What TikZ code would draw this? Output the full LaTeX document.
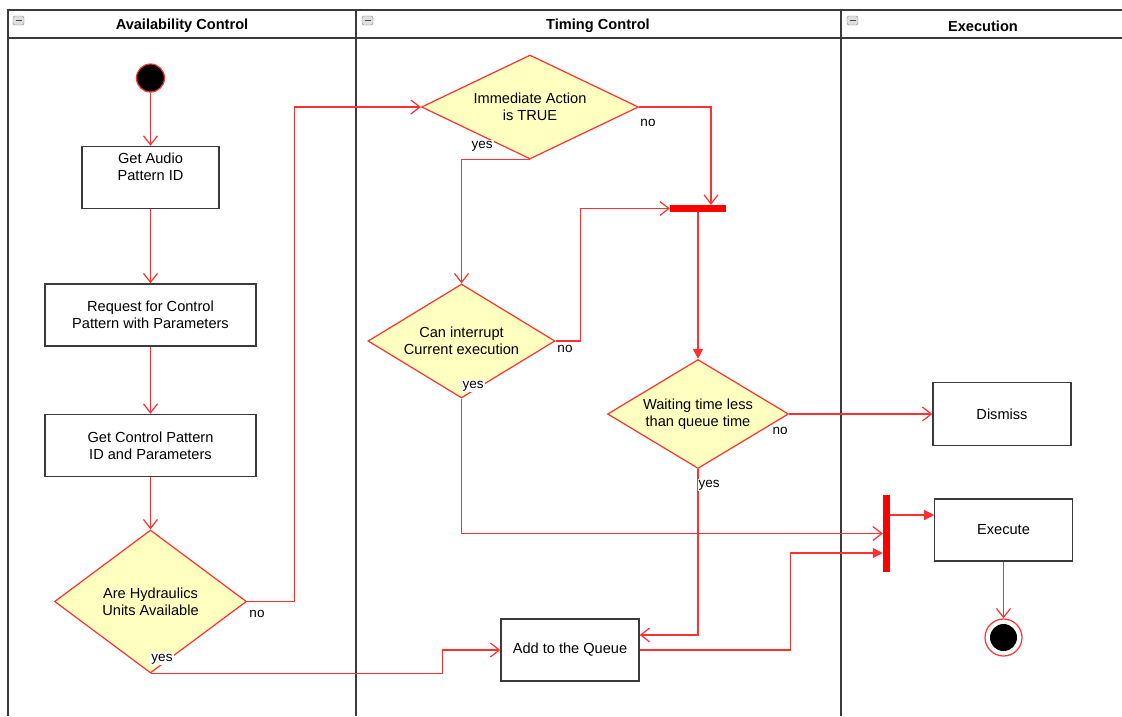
\documentclass[tikz,border=0pt]{standalone}
\usepackage{fontspec}
\setmainfont{Liberation Sans}
\usetikzlibrary{shapes.geometric,arrows.meta,positioning,calc}

\definecolor{flowred}{HTML}{FF3030}
\definecolor{decfill}{HTML}{FFFFC0}
\definecolor{framegray}{HTML}{3A3A3A}

\tikzset{
  actbox/.style={draw=framegray,line width=1.4pt,minimum width=137pt,minimum height=62pt,
    inner sep=2pt,align=center,font=\fontsize{14.6}{17}\selectfont},
  decide/.style={diamond,draw=flowred,fill=decfill,line width=1.2pt,inner sep=0pt,
    align=center,font=\fontsize{14.6}{17}\selectfont},
  syncbar/.style={fill=red,inner sep=0pt},
  flow/.style={draw=flowred,line width=1.2pt,-{Straight Barb[length=9pt,width=14pt]}},
  flowfill/.style={draw=flowred,line width=1.2pt,-{Triangle[length=10pt,width=10pt]}},
  lbl/.style={fill=white,inner sep=1pt,font=\fontsize{13.5}{15}\selectfont},
  lanetitle/.style={font=\bfseries\fontsize{14.6}{16}\selectfont},
  laneicon/.style={draw=gray,fill=gray!25,rounded corners=1.5pt,minimum width=11pt,minimum height=9pt,inner sep=0pt,
    path picture={\draw[black!70,line width=1.2pt] ([xshift=2.5pt]path picture bounding box.west)
      -- ([xshift=-2.5pt]path picture bounding box.east);}}
}

\begin{document}
\begin{tikzpicture}[x=1pt,y=-1pt]
  \useasboundingbox (0,0) rectangle (1122,716);
  % swimlanes
  \draw[framegray,line width=1.5pt] (1122,10) -- (8,10) -- (8,716);
  \draw[framegray,line width=1.5pt] (8,38) -- (1122,38);
  \draw[framegray,line width=1.5pt] (356,10) -- (356,716);
  \draw[framegray,line width=1.5pt] (841,10) -- (841,716);
  \node[laneicon] (icona) at (18.5,20.5) {};
  \node[laneicon] (iconb) at (367.5,20.5) {};
  \node[laneicon] (iconc) at (852.5,20.5) {};
  \node[lanetitle] (availtitle) at (182,26) {Availability Control};
  \node[lanetitle] (timetitle) at (598,26) {Timing Control};
  \node[lanetitle] (exectitle) at (983,26) {Execution};

  % availability control
  \node[circle,fill=black,draw=flowred,line width=1.2pt,minimum size=28pt,inner sep=0pt] (start) at (150.5,78) {};
  \node[actbox] (audio) at (150.5,177.5) {Get Audio\\Pattern ID\\\strut};
  \node[actbox,minimum width=211pt] (request) at (150.5,315) {Request for Control\\Pattern with Parameters};
  \node[actbox,minimum width=211pt] (ctrlid) at (150.5,445.5) {Get Control Pattern\\ID and Parameters};
  \node[decide,aspect=1.34,minimum width=192pt,minimum height=143pt] (hydra) at (150.5,601.5) {Are Hydraulics\\Units Available};

  % timing control
  \node[decide,aspect=2.09,minimum width=217pt,minimum height=104pt] (immed) at (530,107) {Immediate Action\\is TRUE};
  \node[decide,aspect=1.64,minimum width=187pt,minimum height=114pt] (interrupt) at (461.5,341) {Can interrupt\\Current execution};
  \node[syncbar,minimum width=56pt,minimum height=7pt] (joinbar) at (698,208.5) {};
  \node[decide,aspect=1.66,minimum width=181pt,minimum height=109pt] (waiting) at (698,414) {Waiting time less\\than queue time};
  \node[actbox,minimum width=138pt] (queue) at (570,650) {Add to the Queue};

  % execution
  \node[syncbar,minimum width=7pt,minimum height=77pt] (forkbar) at (886.5,533.5) {};
  \node[actbox,minimum width=138pt,minimum height=63pt] (dismiss) at (1002,414) {Dismiss};
  \node[actbox,minimum width=138pt] (execute) at (1003.5,530) {Execute};
  \node[circle,draw=flowred,fill=white,line width=1.2pt,minimum size=37pt,inner sep=0pt] (finish) at (1003.5,637.5) {};
  \node[circle,fill=black,minimum size=27pt,inner sep=0pt] (finishdot) at (finish) {};

  % flows
  \draw[flow] (start) -- (audio);
  \draw[flow] (audio) -- (request);
  \draw[flow] (request) -- (ctrlid);
  \draw[flow] (ctrlid) -- (hydra);
  \draw[flow] (hydra.east) -- ++(47,0) |- (immed.west);
  \draw[flow] (hydra.south) -- ++(292,0) |- (queue.west);
  \draw[flow] (immed.east) -| ([xshift=13pt]joinbar.north);
  \draw[flow] (immed.south) -| (interrupt.north);
  \draw[flow] (interrupt.east) -- ++(25,0) |- (joinbar.west);
  \draw[flow] (interrupt.south) |- (forkbar.west);
  \draw[flowfill] (joinbar.south) -- (waiting.north);
  \draw[flow] (waiting.east) -- (dismiss.west);
  \draw[flow] (waiting.south) |- ([yshift=15pt]queue.east);
  \draw[flowfill] (queue.east) -- ++(151,0) |- ([yshift=-19.5pt]forkbar.west);
  \draw[flowfill] ([yshift=18.5pt]forkbar.east) -- ++(44,0);
  \draw[flow] (execute) -- (finish);

  % guards
  \node[lbl] (hydrano) at (257,614) {no};
  \node[lbl] (hydrayes) at (162,659) {yes};
  \node[lbl] (immedno) at (648,123) {no};
  \node[lbl] (immedyes) at (482,146) {yes};
  \node[lbl] (interno) at (565,349) {no};
  \node[lbl] (interyes) at (473,386) {yes};
  \node[lbl] (waitno) at (780,431) {no};
  \node[lbl] (waityes) at (709,485) {yes};
\end{tikzpicture}
\end{document}
